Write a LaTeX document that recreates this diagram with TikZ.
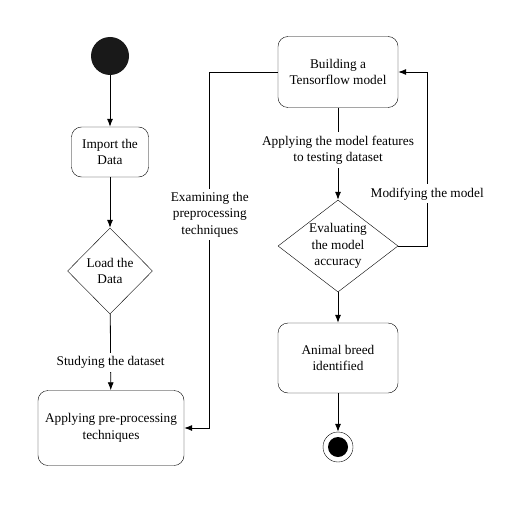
\documentclass[tikz,border=0pt]{standalone}
\usepackage{fontspec}
\setmainfont{Liberation Serif}
\usetikzlibrary{shapes.geometric, arrows.meta}
\tikzset{>={Latex[length=8pt, width=6pt]}}
\newcommand{\GenericFlowStep}[5]{
  \node [#1] (#3) at (#4, #5) {#2};
}
\newcommand{\ActionStep}[6]{
  \GenericFlowStep{draw, rounded corners=10pt, align=center, minimum width=#5pt, minimum height=#6pt}{#1}{#2}{#3}{#4}
}
\newcommand{\DecisionStep}[6]{
  \GenericFlowStep{draw, diamond, aspect=1.3, inner sep=-8pt, align=center, minimum width=#5pt, minimum height=#6pt}{#1}{#2}{#3}{#4}
}
\newcommand{\StraightFlow}[2]{
  \draw [thick, ->] (#2) -- (#1);
}
\newcommand{\LabeledFlow}[4]{
  \draw [thick, ->] (#2) -- node [#3, fill=white, align=center] {#4} (#1);
}

\begin{document}
\begin{tikzpicture}[x=1pt, y=-1pt, font=\fontsize{13.3}{16.5}\selectfont]
        \useasboundingbox (0,0) rectangle (526,505);

        % start and end markers
        \node [circle, fill=black!90, minimum size=38pt, inner sep=0pt] (start) at (110, 56) {};
        \node [circle, draw, minimum size=30pt, inner sep=0pt,
          path picture={\fill (path picture bounding box.center) circle (10pt);}] (end) at (338, 447) {};

        % left column: loading the data
        \ActionStep{Import the\\Data}{import}{110}{152}{77}{50}
        \DecisionStep{Load the\\Data}{load}{110}{271}{85}{86}
        \ActionStep{Applying pre-processing\\techniques}{apply}{111}{428}{146}{75}
        \StraightFlow{import}{start}
        \StraightFlow{load}{import}
        \LabeledFlow{apply}{load}{pos=0.64}{Studying the dataset}

        % right column: the model
        \ActionStep{Building a\\Tensorflow model}{build}{338}{72}{120}{71}
        \DecisionStep{Evaluating\\the model\\accuracy}{eval}{338}{246}{120}{92}
        \ActionStep{Animal breed\\identified}{breed}{338}{358}{120}{70}
        \LabeledFlow{eval}{build}{pos=0.46}{Applying the model features\\to testing dataset}
        \StraightFlow{breed}{eval}
        \StraightFlow{end}{breed}

        % loops between the columns
        \draw [thick, ->] (build.west) -- ++(-68, 0) |- node [pos=0.2, fill=white, align=center]
          {Examining the\\preprocessing\\techniques} (apply.east);
        \draw [thick, ->] (eval.east) -- ++(29, 0) |- node [pos=0.15, fill=white] {Modifying the model} (build.east);

      \end{tikzpicture}
\end{document}
